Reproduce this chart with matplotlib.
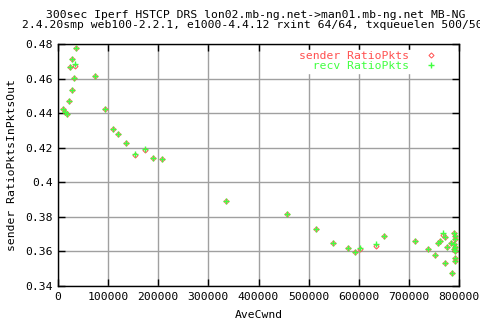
import matplotlib
matplotlib.use("Agg")
import matplotlib.pyplot as plt
from matplotlib.ticker import FuncFormatter, MultipleLocator
from matplotlib.lines import Line2D

# AveCwnd for each sample (same for sender and receiver)
cwnd = [10000, 14000, 18000, 22000, 23400, 27400, 34000, 31400, 28000, 36800,
        74000, 94000, 108800, 120000, 136000, 154000, 174000, 190000, 208000,
        336000, 456000, 514000, 548000, 578000, 592000, 602000, 634000, 650000,
        712000, 738000, 752000, 758000, 763000, 768400, 772800, 776000, 772000,
        784000, 786000, 790800, 791400, 792000, 790000, 792000, 790000, 792000,
        792000, 792000]

sender_ratio = [0.4424, 0.4408, 0.4395, 0.4468, 0.4665, 0.4711, 0.4670, 0.4605,
                0.4532, 0.4775, 0.4615, 0.4422, 0.4306, 0.4278, 0.4226, 0.4155,
                0.4186, 0.4139, 0.4133, 0.3892, 0.3815, 0.3728, 0.3647, 0.3618,
                0.3595, 0.3612, 0.3630, 0.3688, 0.3659, 0.3612, 0.3579, 0.3650,
                0.3662, 0.3694, 0.3682, 0.3624, 0.3533, 0.3650, 0.3475, 0.3708,
                0.3689, 0.3670, 0.3643, 0.3627, 0.3612, 0.3604, 0.3560, 0.3543]

recv_ratio = [0.4424, 0.4408, 0.4395, 0.4468, 0.4665, 0.4711, 0.4683, 0.4605,
              0.4532, 0.4775, 0.4615, 0.4422, 0.4306, 0.4278, 0.4226, 0.4165,
              0.4195, 0.4139, 0.4133, 0.3892, 0.3815, 0.3728, 0.3647, 0.3618,
              0.3595, 0.3620, 0.3642, 0.3688, 0.3659, 0.3612, 0.3579, 0.3650,
              0.3662, 0.3708, 0.3682, 0.3624, 0.3533, 0.3650, 0.3475, 0.3708,
              0.3689, 0.3670, 0.3643, 0.3627, 0.3612, 0.3604, 0.3560, 0.3543]

title = ("300sec Iperf HSTCP DRS lon02.mb-ng.net->man01.mb-ng.net MB-NG\n"
         "2.4.20smp web100-2.2.1, e1000-4.4.12 rxint 64/64, txqueuelen 500/500")

RED = "#ff5050"
GREEN = "#40ff40"
FS = 8.2
plt.rcParams["font.family"] = ["DejaVu Sans Mono"]
plt.rcParams["font.size"] = FS

fig = plt.figure(figsize=(4.8, 3.2), dpi=100)
ax = fig.add_axes([58 / 480, 1 - 286 / 320, 401 / 480, 242 / 320])

ax.plot(cwnd, sender_ratio, ls="none", marker="D", ms=2.6, mfc="none",
        mec=RED, mew=0.7, zorder=3)
ax.plot(cwnd, recv_ratio, ls="none", marker="+", ms=4.5, mec=GREEN, mew=1.0,
        zorder=4)

ax.set_xlim(0, 800000)
ax.set_ylim(0.34, 0.48)
ax.xaxis.set_major_locator(MultipleLocator(100000))
ax.yaxis.set_major_locator(MultipleLocator(0.02))
ax.yaxis.set_major_formatter(FuncFormatter(lambda v, p: "%g" % round(v, 4)))
ax.tick_params(direction="in", length=5, width=1, top=True, right=True,
               labelsize=FS, pad=4)
ax.grid(True, color="#a0a0a0", lw=1)
ax.set_axisbelow(True)
for s in ax.spines.values():
    s.set_linewidth(1)

ax.set_xlabel("AveCwnd", fontsize=FS, labelpad=6)
ax.set_ylabel("sender RatioPktsInPktsOut", fontsize=FS, labelpad=6)
fig.text(0.532, 1 - 10 / 320, title, ha="center", va="top", fontsize=FS,
         linespacing=1.0)

handles = [Line2D([], [], ls="none", marker="D", ms=2.6, mfc="none", mec=RED, mew=0.7),
           Line2D([], [], ls="none", marker="+", ms=4.5, mec=GREEN, mew=1.0)]
leg = ax.legend(handles, ["sender RatioPkts", "  recv RatioPkts"],
                loc="upper right", bbox_to_anchor=(0.968, 1.0),
                markerfirst=False, frameon=True, fancybox=False,
                facecolor="white", edgecolor="white", framealpha=1,
                handlelength=1.5, handletextpad=1.2, labelspacing=0.05,
                borderpad=0.1, fontsize=FS)
for t, c in zip(leg.get_texts(), [RED, GREEN]):
    t.set_color(c)

fig.savefig("out.png", dpi=100)
